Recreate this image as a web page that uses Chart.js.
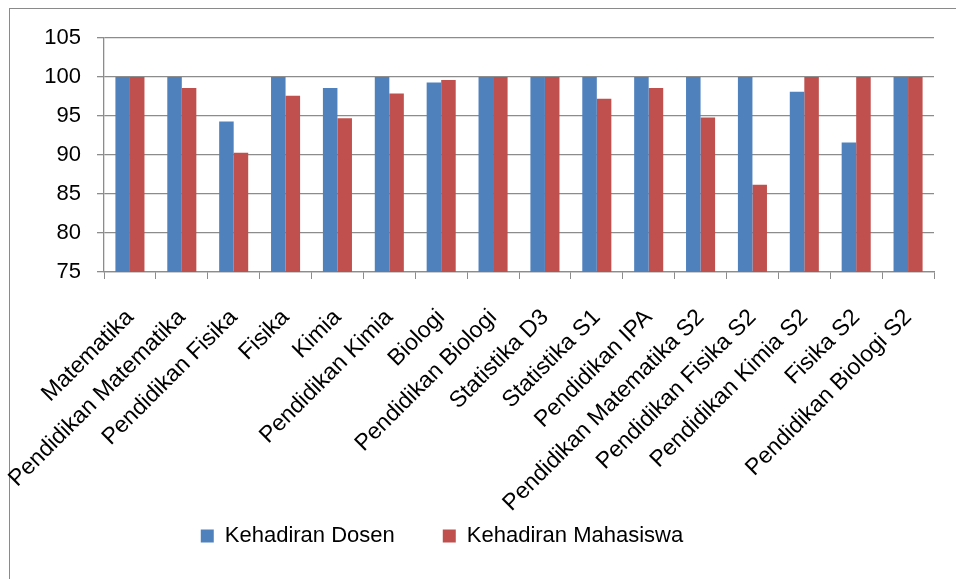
<!DOCTYPE html>
<html lang="id">
<head>
<meta charset="UTF-8">
<title>Kehadiran Dosen dan Mahasiswa</title>
<script src="https://cdn.jsdelivr.net/npm/chart.js"></script>
<style>
    html, body {
        margin: 0;
        padding: 0;
        background: #fff;
        overflow: hidden;
    }
    #wrap {
        position: relative;
        width: 956px;
        height: 579px;
    }
    #frame {
        position: absolute;
        left: 9px;
        top: 8px;
        width: 1000px;
        height: 1000px;
        border: 1px solid #8a8a8a;
    }
    canvas {
        position: absolute;
        left: 0;
        top: 0;
    }
</style>
</head>
<body>
<div id="wrap">
    <div id="frame"></div>
    <canvas id="barChart" width="956" height="579"></canvas>
</div>
<script>
const categories = [
    'Matematika', 'Pendidikan Matematika', 'Pendidikan Fisika', 'Fisika', 'Kimia',
    'Pendidikan Kimia', 'Biologi', 'Pendidikan Biologi', 'Statistika D3', 'Statistika S1',
    'Pendidikan IPA', 'Pendidikan Matematika S2', 'Pendidikan Fisika S2', 'Pendidikan Kimia S2',
    'Fisika S2', 'Pendidikan Biologi S2'
];
const kehadiranDosen = [100, 100, 94.3, 100, 98.6, 100, 99.3, 100, 100, 100, 100, 100, 100, 98.1, 91.6, 100];
const kehadiranMahasiswa = [100, 98.6, 90.3, 97.6, 94.7, 97.9, 99.6, 100, 100, 97.2, 98.6, 94.8, 86.2, 100, 100, 100];
const yTicks = [75, 80, 85, 90, 95, 100, 105];

const gridColor = '#8c8c8c';
const fontFamily = "'Liberation Sans', Arial, sans-serif";

// excel puts the legend a bit left of centre and lets the long
// category labels run down into the legend area, so adjust after layout
const legendNudge = {
    id: 'legendNudge',
    afterLayout(chart) {
        const lg = chart.legend;
        const dx = -25;
        lg.left += dx;
        lg.right += dx;
        const dy = 525 - (lg.top + lg.options.labels.padding);
        lg.top += dy;
        lg.bottom += dy;
        chart.scales.x.bottom = chart.height; // no clipping of x labels
    }
};

const ctx = document.getElementById('barChart').getContext('2d');
const chart = new Chart(ctx, {
    type: 'bar',
    data: {
        labels: categories,
        datasets: [{
            label: 'Kehadiran Dosen',
            data: kehadiranDosen,
            backgroundColor: '#4f81bd',
            categoryPercentage: 0.56,
            barPercentage: 1.0
        }, {
            label: 'Kehadiran Mahasiswa',
            data: kehadiranMahasiswa,
            backgroundColor: '#c0504d',
            categoryPercentage: 0.56,
            barPercentage: 1.0
        }]
    },
    options: {
        responsive: false,
        animation: false,
        layout: {
            padding: { left: 0, top: 38, right: 22, bottom: 20 }
        },
        scales: {
            x: {
                grid: {
                    drawOnChartArea: false,
                    drawTicks: true,
                    tickLength: 7,
                    color: gridColor,
                    offset: true
                },
                border: { color: gridColor, width: 1.3 },
                ticks: {
                    autoSkip: false,
                    minRotation: 45,
                    maxRotation: 45,
                    color: '#000',
                    padding: 25,
                    font: { family: fontFamily, size: 23 }
                },
                afterFit(scale) {
                    scale.height = 207;
                }
            },
            y: {
                min: 75,
                max: 105,
                afterBuildTicks(scale) {
                    scale.ticks = yTicks.map(v => ({ value: v }));
                },
                grid: {
                    color: gridColor,
                    lineWidth: 1.3,
                    tickLength: 7
                },
                border: { color: gridColor, width: 1.3 },
                ticks: {
                    color: '#000',
                    padding: 16,
                    font: { family: fontFamily, size: 22 }
                },
                afterFit(scale) {
                    scale.width = 104;
                }
            }
        },
        plugins: {
            legend: {
                position: 'bottom',
                labels: {
                    boxWidth: 13,
                    boxHeight: 13,
                    padding: 48,
                    color: '#000',
                    font: { family: fontFamily, size: 22 }
                }
            },
            tooltip: { enabled: false }
        }
    },
    plugins: [legendNudge]
});
</script>
</body>
</html>
